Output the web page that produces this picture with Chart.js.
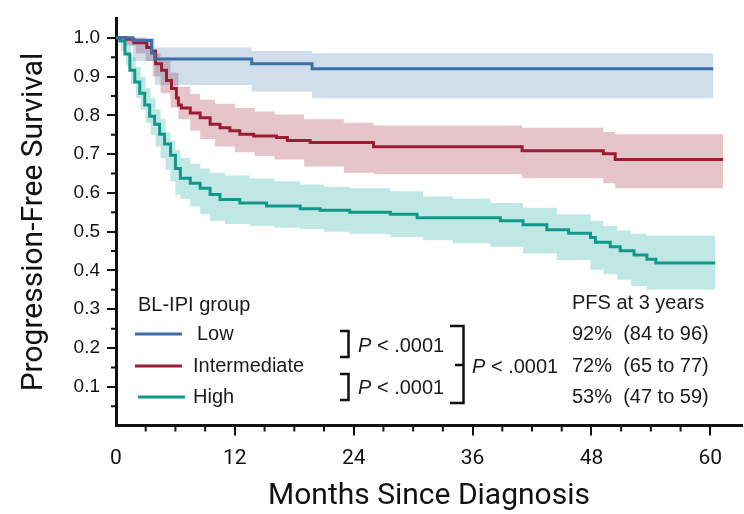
<!DOCTYPE html>
<html>
<head>
<meta charset="utf-8">
<script src="https://cdn.jsdelivr.net/npm/chart.js@4.4.1/dist/chart.umd.min.js"></script>
<style>
  html, body { margin: 0; padding: 0; background: #fff; }
  #wrap { width: 744px; height: 514px; }
</style>
</head>
<body>
<div id="wrap"><canvas id="km"></canvas></div>
<script>
// Kaplan-Meier curves, values (months, survival)
const groupNames = ['Low', 'Intermediate', 'High'];
const pfsAt3y = ['92%  (84 to 96)', '72%  (65 to 77)', '53%  (47 to 59)'];

const lowTime = [0, 1.7, 3.6, 3.9, 13.7, 19.8, 60.3];
const lowSurv = [1.0, 0.993, 0.96, 0.945, 0.933, 0.92, 0.92];
const lowBandTime = [0, 0.8, 1.7, 3.9, 13.7, 19.8, 60.3];
const lowUpper = [1.0, 1.0, 1.0, 0.975, 0.966, 0.96, 0.96];
const lowLower = [1.0, 0.98, 0.94, 0.878, 0.861, 0.844, 0.844];

const intTime = [0, 1.1, 1.8, 3.1, 3.6, 4.0, 4.6, 5.1, 5.6, 6.1, 6.3, 6.6, 7.5, 8.5, 9.5, 10.5, 11.5, 12.5, 13.9, 16.2, 17.3, 19.6, 22.6, 26, 41, 49.2, 50.4, 61.3];
const intSurv = [1.0, 0.996, 0.987, 0.975, 0.966, 0.933, 0.916, 0.89, 0.869, 0.845, 0.827, 0.819, 0.806, 0.794, 0.777, 0.768, 0.76, 0.751, 0.747, 0.743, 0.735, 0.73, 0.73, 0.719, 0.709, 0.701, 0.686, 0.686];
const intBandTime = [0, 1.0, 2.0, 3.0, 3.7, 4.5, 5.5, 6.3, 7.5, 8.5, 10, 12, 14, 16, 19, 23, 26, 41, 49.2, 50.4, 61.3];
const intUpper = [1.0, 1.0, 1.0, 0.99, 0.96, 0.94, 0.91, 0.874, 0.855, 0.84, 0.83, 0.819, 0.81, 0.802, 0.79, 0.781, 0.774, 0.768, 0.757, 0.751, 0.751];
const intLower = [1.0, 0.98, 0.96, 0.94, 0.9, 0.857, 0.82, 0.79, 0.76, 0.739, 0.72, 0.705, 0.695, 0.686, 0.668, 0.652, 0.648, 0.638, 0.625, 0.612, 0.612];

const highTime = [0, 0.4, 0.9, 1.4, 1.9, 2.4, 2.9, 3.4, 3.9, 4.4, 4.9, 5.5, 6.0, 6.5, 7.5, 8.5, 9.5, 10.5, 12.5, 15.2, 18.6, 20.6, 23.6, 27.7, 30.4, 38.8, 41.1, 43.5, 45.7, 47.9, 48.4, 49.9, 50.9, 52.3, 53.6, 54.5, 60.5];
const highSurv = [1.0, 0.992, 0.958, 0.916, 0.886, 0.857, 0.827, 0.798, 0.777, 0.751, 0.726, 0.697, 0.663, 0.638, 0.625, 0.612, 0.596, 0.583, 0.574, 0.566, 0.559, 0.555, 0.55, 0.545, 0.536, 0.528, 0.518, 0.505, 0.496, 0.485, 0.473, 0.461, 0.451, 0.44, 0.429, 0.419, 0.419];
const highBandTime = [0, 0.5, 1.0, 1.5, 2.0, 2.5, 3.0, 3.5, 4.0, 4.5, 5.0, 5.5, 6.0, 6.5, 7.5, 8.5, 9.5, 11, 13.5, 16, 18.6, 21, 23.6, 27.7, 31, 34, 37.8, 41.1, 44.5, 47.9, 49.2, 50.6, 52, 53.6, 60.5];
const highUpper = [1.0, 1.0, 0.98, 0.95, 0.925, 0.9, 0.87, 0.845, 0.815, 0.79, 0.756, 0.735, 0.71, 0.69, 0.675, 0.663, 0.652, 0.645, 0.637, 0.63, 0.622, 0.616, 0.612, 0.604, 0.591, 0.585, 0.574, 0.562, 0.545, 0.528, 0.515, 0.503, 0.495, 0.49, 0.49];
const highLower = [1.0, 0.966, 0.93, 0.88, 0.845, 0.815, 0.78, 0.75, 0.72, 0.69, 0.66, 0.63, 0.596, 0.585, 0.565, 0.545, 0.528, 0.52, 0.515, 0.51, 0.507, 0.5, 0.494, 0.486, 0.478, 0.47, 0.461, 0.444, 0.427, 0.402, 0.39, 0.376, 0.36, 0.351, 0.347];

const xTicks = [0, 12, 24, 36, 48, 60];
const lineColors = ['#3b6fa6', '#9c1c32', '#12988b'];
const bandColors = ['rgba(59,111,166,0.24)', 'rgba(156,28,50,0.26)', 'rgba(18,170,155,0.27)'];

const AXIS = '#111';
const SANS = "'Liberation Sans', Arial, sans-serif";
const ROBO = "Roboto, 'Liberation Sans', sans-serif";

function pts(t, v) {
    return t.map((x, i) => ({ x: x, y: v[i] }));
}

const groups = [
    { time: lowTime, surv: lowSurv, bt: lowBandTime, up: lowUpper, lo: lowLower },
    { time: intTime, surv: intSurv, bt: intBandTime, up: intUpper, lo: intLower },
    { time: highTime, surv: highSurv, bt: highBandTime, up: highUpper, lo: highLower }
];

const datasets = [];
groups.forEach((g, i) => {
    // CI band: upper edge, then lower edge filled up to it
    datasets.push({ label: groupNames[i] + ' upper', data: pts(g.bt, g.up), stepped: true,
        borderWidth: 0, pointRadius: 0, fill: false, order: 10 });
    datasets.push({ label: groupNames[i] + ' lower', data: pts(g.bt, g.lo), stepped: true,
        borderWidth: 0, pointRadius: 0, fill: '-1', backgroundColor: bandColors[i], order: 10 });
});
groups.forEach((g, i) => {
    datasets.push({ label: groupNames[i], data: pts(g.time, g.surv), stepped: true,
        borderColor: lineColors[i], borderWidth: 3, pointRadius: 0, fill: false, order: 0 });
});

// minor ticks, legend and the p-value / PFS annotations
const notes = {
    id: 'notes',
    afterDraw(chart) {
        const ctx = chart.ctx;
        const xs = chart.scales.x, ys = chart.scales.y;
        const area = chart.chartArea;
        ctx.save();
        ctx.strokeStyle = AXIS;
        ctx.lineWidth = 2;
        ctx.beginPath();
        for (let m = 3; m <= 60; m += 3) {
            if (m % 12 === 0) continue;
            const px = xs.getPixelForValue(m);
            ctx.moveTo(px, area.bottom);
            ctx.lineTo(px, area.bottom + 6);
        }
        for (let k = 1; k < 20; k += 2) {
            const py = ys.getPixelForValue(k * 0.05);
            ctx.moveTo(area.left, py);
            ctx.lineTo(area.left - 5, py);
        }
        ctx.stroke();

        // legend
        ctx.fillStyle = '#1a1a1a';
        ctx.textBaseline = 'middle';
        ctx.font = '20px ' + SANS;
        ctx.fillText('BL-IPI group', 138, 305);
        const rowY = [334, 366, 397];
        const lineX = [[135, 182], [135, 182], [138, 185]];
        const textX = [197, 193, 193];
        groupNames.forEach((name, i) => {
            ctx.strokeStyle = lineColors[i];
            ctx.lineWidth = 3;
            ctx.beginPath();
            ctx.moveTo(lineX[i][0], rowY[i]);
            ctx.lineTo(lineX[i][1], rowY[i]);
            ctx.stroke();
            ctx.fillText(name, textX[i], rowY[i]);
        });

        // brackets
        ctx.strokeStyle = '#111';
        ctx.lineWidth = 2.5;
        ctx.beginPath();
        ctx.moveTo(340, 331); ctx.lineTo(348.5, 331); ctx.lineTo(348.5, 357); ctx.lineTo(340, 357);
        ctx.moveTo(340, 374); ctx.lineTo(348.5, 374); ctx.lineTo(348.5, 400); ctx.lineTo(340, 400);
        ctx.moveTo(450, 326); ctx.lineTo(463.5, 326); ctx.lineTo(463.5, 403); ctx.lineTo(450, 403);
        ctx.moveTo(455, 365); ctx.lineTo(463.5, 365);
        ctx.stroke();

        function pText(x, y) {
            ctx.font = 'italic 20px ' + SANS;
            ctx.fillText('P', x, y);
            const w = ctx.measureText('P').width;
            ctx.font = '20px ' + SANS;
            ctx.fillText(' < .0001', x + w, y);
        }
        pText(358, 346);
        pText(358, 388);
        pText(472, 367);

        ctx.font = '20px ' + SANS;
        ctx.fillText('PFS at 3 years', 572, 303);
        pfsAt3y.forEach((s, i) => ctx.fillText(s, 572, rowY[i]));
        ctx.restore();
    }
};

new Chart(document.getElementById('km'), {
    type: 'line',
    data: { datasets: datasets },
    options: {
        responsive: true,
        maintainAspectRatio: false,
        animation: false,
        layout: { padding: { top: 10, right: 2, left: 0, bottom: 0 } },
        plugins: { legend: { display: false }, tooltip: { enabled: false } },
        scales: {
            x: {
                type: 'linear',
                min: 0,
                max: 63.2,
                afterFit: s => { s.height = 88.4; },
                border: { display: true, color: AXIS, width: 3 },
                grid: { drawOnChartArea: false, drawTicks: true, tickLength: 10, lineWidth: 2,
                    tickColor: c => (c.tick && c.tick.value > 0 ? AXIS : 'rgba(0,0,0,0)') },
                afterBuildTicks: s => { s.ticks = xTicks.map(v => ({ value: v })); },
                ticks: { color: '#111', padding: 11, font: { family: ROBO, size: 21 },
                    maxRotation: 0, callback: v => String(v) },
                title: { display: true, text: 'Months Since Diagnosis', color: '#111',
                    font: { family: ROBO, size: 30 }, padding: { top: 0, bottom: 0 } }
            },
            y: {
                min: 0,
                max: 1.05,
                afterFit: s => { s.width = 116; },
                border: { display: true, color: AXIS, width: 3 },
                grid: { drawOnChartArea: false, drawTicks: true, tickLength: 9, lineWidth: 2,
                    tickColor: c => (c.tick && c.tick.value > 0.01 ? AXIS : 'rgba(0,0,0,0)') },
                ticks: { stepSize: 0.1, includeBounds: false, color: '#111', padding: 7,
                    font: { family: SANS, size: 19 },
                    callback: v => (v > 0.01 && v < 1.01 ? v.toFixed(1) : '') },
                title: { display: true, text: 'Progression-Free Survival', color: '#111',
                    font: { family: ROBO, size: 30 }, padding: { top: 16, bottom: 0 } }
            }
        }
    },
    plugins: [notes]
});
</script>
</body>
</html>
